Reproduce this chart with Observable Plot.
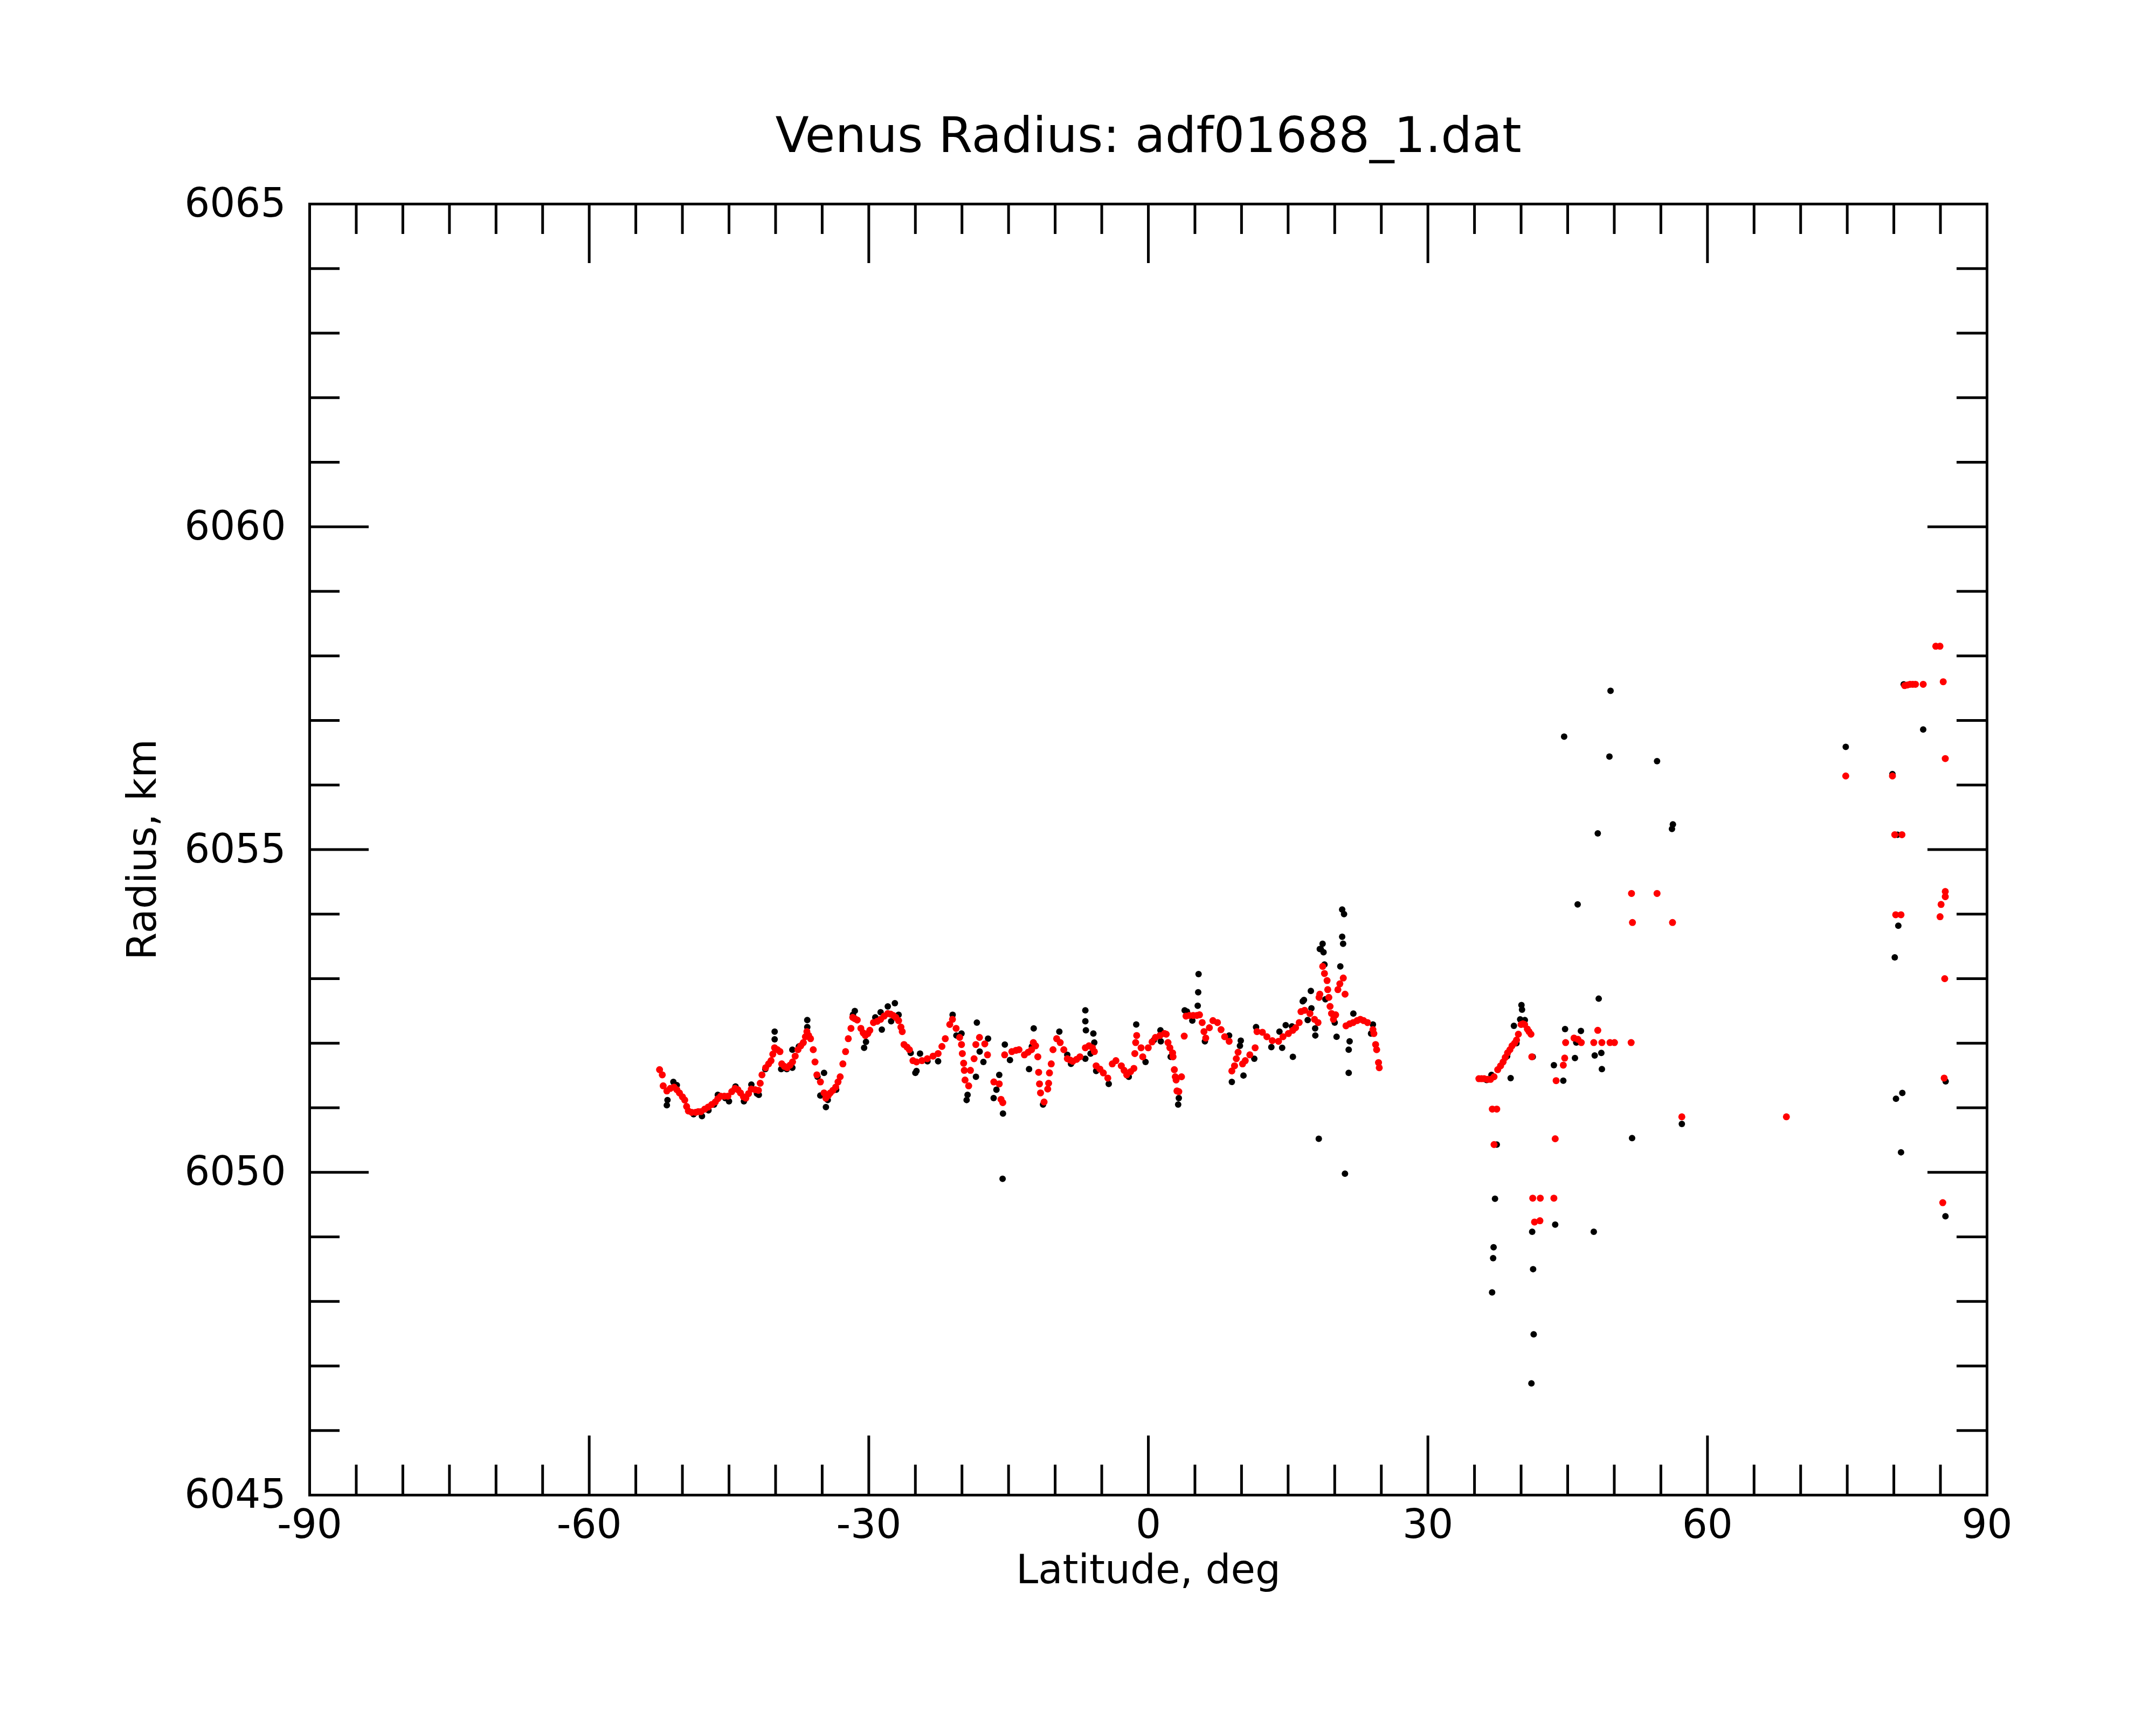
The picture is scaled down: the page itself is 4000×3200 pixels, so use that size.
<!DOCTYPE html>
<html>
<head>
<meta charset="utf-8">
<script src="https://cdn.jsdelivr.net/npm/d3@7"></script>
<script src="https://cdn.jsdelivr.net/npm/@observablehq/plot@0.6"></script>
<style>
html, body { margin: 0; padding: 0; background: #ffffff; }
#chart svg { display: block; }
</style>
</head>
<body>
<div id="chart"></div>
<script>
// ---- Text ----
const title = "Venus Radius: adf01688_1.dat";
const xLabel = "Latitude, deg";
const yLabel = "Radius, km";

// ---- Ticks ----
const xMajorTicks = [-90, -60, -30, 0, 30, 60, 90];
const xMinorTicks = [-85, -80, -75, -70, -65, -55, -50, -45, -40, -35, -25, -20, -15, -10, -5,
  5, 10, 15, 20, 25, 35, 40, 45, 50, 55, 65, 70, 75, 80, 85];
const yMajorTicks = [6045, 6050, 6055, 6060, 6065];
const yMinorTicks = [6046, 6047, 6048, 6049, 6051, 6052, 6053, 6054, 6056, 6057, 6058, 6059,
  6061, 6062, 6063, 6064];

// ---- Data: [latitude (deg), radius (km)] ----
const blackPoints = [
  [-51.67,6051.04],[-51.6,6051.12],[-50.97,6051.40],[-50.6,6051.35],[-48.8,6050.90],[-47.9,6050.87],
  [-47.2,6050.96],[-46.6,6051.05],[-46.2,6051.20],[-45.4,6051.15],[-45.0,6051.10],[-44.3,6051.33],
  [-43.4,6051.10],[-42.6,6051.36],[-42.0,6051.22],[-41.8,6051.20],[-41.1,6051.60],[-40.1,6052.18],
  [-40.1,6052.06],[-39.4,6051.60],[-38.8,6051.60],[-38.2,6051.62],[-38.2,6051.90],[-37.5,6051.95],
  [-36.6,6052.36],[-36.6,6052.25],[-35.5,6051.48],[-35.2,6051.19],[-34.8,6051.54],[-34.6,6051.01],
  [-34.4,6051.12],[-33.5,6051.28],[-31.7,6052.44],[-31.5,6052.50],[-30.5,6051.93],[-30.3,6052.02],
  [-29.3,6052.40],[-28.73,6052.48],[-28.6,6052.21],[-27.96,6052.57],[-27.6,6052.34],[-27.2,6052.62],
  [-26.8,6052.44],[-25.5,6051.85],[-25.0,6051.54],
  [-24.88,6051.57],[-24.5,6051.84],[-23.7,6051.72],[-22.56,6051.72],[-21.0,6052.44],[-20.6,6052.12],
  [-20.05,6052.15],[-19.5,6051.12],[-19.4,6051.20],[-18.5,6051.48],[-18.4,6052.32],[-18.1,6051.87],
  [-17.7,6051.71],[-17.2,6052.07],[-16.6,6051.15],[-16.3,6051.28],[-16.0,6051.51],[-15.64,6049.90],
  [-15.6,6050.91],[-15.4,6051.98],[-14.85,6051.74],[-12.8,6051.60],[-12.5,6051.95],[-12.3,6052.23],
  [-11.3,6051.05],[-9.55,6052.18],[-8.7,6051.82],[-8.3,6051.68],[-6.76,6052.51],[-6.76,6052.34],
  [-6.76,6051.76],[-6.7,6052.20],[-6.2,6051.84],[-5.9,6052.15],[-5.8,6052.01],[-5.6,6051.57],
  [-4.25,6051.37],[-2.1,6051.48],[-1.3,6052.29],[-0.3,6051.71],[0.6,6052.05],[1.3,6052.20],
  [1.34,6052.03],[2.4,6051.79],[3.2,6051.05],[3.27,6051.15],[3.9,6052.51],
  [4.14,6052.49],[4.72,6052.35],[5.3,6052.58],[5.35,6052.79],[5.39,6053.07],[6.07,6052.03],
  [8.67,6052.12],[8.96,6051.40],[9.83,6051.96],[9.92,6052.04],[10.21,6051.50],[11.37,6051.76],
  [11.56,6052.25],[13.2,6051.94],[14.07,6052.18],[14.36,6051.93],[14.74,6052.28],[15.41,6052.26],
  [15.51,6051.79],[16.57,6052.65],[16.7,6052.67],[17.1,6052.36],[17.44,6052.81],[17.5,6052.54],
  [17.9,6052.23],[17.92,6052.12],[18.29,6050.52],[18.4,6053.46],[18.5,6053.46],[18.7,6053.54],
  [18.8,6053.41],[18.9,6053.22],[19.0,6052.68],[20.0,6052.32],[20.2,6052.10],[20.6,6053.19],
  [20.8,6054.07],[20.8,6053.65],[20.9,6053.54],[21.0,6054.00],[21.1,6049.98],[21.5,6051.54],
  [21.5,6051.90],[21.6,6052.03],[22.0,6052.46],[23.9,6052.15],[24.1,6052.29],
  [36.3,6051.43],[36.82,6051.51],[36.89,6048.14],[37.0,6048.67],[37.05,6048.84],[37.2,6049.59],
  [37.39,6050.43],[38.5,6051.80],[38.88,6051.46],[39.23,6052.27],[39.5,6052.00],[39.9,6052.37],
  [40.04,6052.59],[40.1,6052.52],[40.4,6052.36],[41.11,6046.73],[41.19,6049.08],[41.25,6051.79],
  [41.29,6048.50],[41.35,6047.49],[43.52,6051.66],[43.66,6049.19],[44.53,6051.42],[44.62,6056.75],
  [44.72,6052.22],[45.78,6051.77],[45.92,6052.01],[46.07,6054.15],[46.42,6052.19],[47.8,6049.08],
  [47.9,6051.81],[48.23,6055.25],[48.33,6052.69],[48.61,6051.85],[48.67,6051.60],[49.48,6056.44],
  [49.60,6057.46],[51.91,6050.53],[54.59,6056.37],[56.19,6055.32],[56.29,6055.39],[57.25,6050.75],
  [74.84,6056.59],[79.85,6056.17],[80.1,6053.33],[80.23,6051.14],[80.39,6055.23],[80.48,6053.82],
  [80.77,6050.31],[80.91,6051.23],[81.06,6057.56],[83.15,6056.86],[85.54,6049.32],[85.56,6051.41]
];

const redPoints = [
  [-52.45,6051.59],[-52.16,6051.51],[-52.06,6051.34],[-51.67,6051.26],[-51.3,6051.30],[-50.90,6051.32],
  [-50.6,6051.28],[-50.32,6051.23],[-50.0,6051.17],[-49.75,6051.12],[-49.55,6051.02],[-49.36,6050.95],
  [-49.0,6050.93],[-48.59,6050.93],[-48.3,6050.94],[-48.01,6050.94],[-47.6,6050.98],[-47.24,6051.01],
  [-46.85,6051.05],[-46.47,6051.09],[-46.2,6051.14],[-45.89,6051.18],[-45.5,6051.18],[-45.12,6051.18],
  [-44.7,6051.25],[-44.35,6051.30],[-44.05,6051.28],[-43.77,6051.23],[-43.45,6051.17],[-43.19,6051.15],
  [-42.9,6051.22],[-42.61,6051.29],[-42.2,6051.28],[-41.84,6051.27],[-41.65,6051.38],[-41.46,6051.51],
  [-41.07,6051.62],[-40.75,6051.68],[-40.49,6051.73],[-40.3,6051.83],[-40.11,6051.93],[-39.8,6051.90],
  [-39.53,6051.87],[-39.34,6051.68],[-39.05,6051.64],[-38.76,6051.62],[-38.45,6051.66],[-38.18,6051.71],
  [-37.9,6051.80],[-37.60,6051.90],[-37.3,6051.96],[-37.02,6052.01],[-36.8,6052.10],[-36.64,6052.18],
  [-36.45,6052.12],[-36.25,6052.07],[-35.96,6051.90],[-35.77,6051.71],[-35.57,6051.51],[-35.19,6051.40],
  [-34.80,6051.23],[-34.61,6051.15],[-34.35,6051.19],[-34.13,6051.23],[-33.85,6051.27],[-33.55,6051.32],
  [-33.3,6051.40],[-33.07,6051.48],[-32.78,6051.68],[-32.49,6051.87],[-32.20,6052.07],[-31.91,6052.23],
  [-31.72,6052.40],[-31.5,6052.38],[-31.24,6052.36],[-30.85,6052.23],[-30.6,6052.16],[-30.37,6052.12],
  [-30.1,6052.15],[-29.89,6052.20],[-29.50,6052.32],[-29.1,6052.34],[-28.73,6052.37],[-28.35,6052.42],
  [-27.96,6052.46],[-27.65,6052.45],[-27.38,6052.43],[-27.1,6052.40],[-26.80,6052.35],[-26.55,6052.25],
  [-26.41,6052.18],[-26.22,6051.98],[-25.9,6051.94],[-25.64,6051.90],[-25.26,6051.73],
  [-24.88,6051.71],[-24.3,6051.73],[-23.72,6051.76],[-23.1,6051.80],[-22.56,6051.84],[-22.15,6051.95],
  [-21.79,6052.07],[-21.31,6052.29],[-21.02,6052.37],[-20.63,6052.23],[-20.25,6052.09],[-20.05,6051.98],
  [-19.96,6051.84],[-19.82,6051.69],[-19.75,6051.58],[-19.67,6051.43],[-19.28,6051.34],[-19.09,6051.58],
  [-18.7,6051.76],[-18.51,6051.98],[-18.12,6052.09],[-17.55,6051.99],[-17.26,6051.82],[-16.58,6051.40],
  [-16.0,6051.37],[-15.81,6051.13],[-15.62,6051.08],[-15.42,6051.82],[-14.65,6051.87],[-14.2,6051.89],
  [-13.88,6051.90],[-13.30,6051.82],[-12.9,6051.86],[-12.53,6051.90],[-12.34,6052.01],[-12.1,6051.96],
  [-11.86,6051.79],[-11.77,6051.55],[-11.68,6051.37],[-11.57,6051.23],[-11.19,6051.09],[-10.8,6051.29],
  [-10.7,6051.38],[-10.61,6051.54],[-10.42,6051.68],[-10.23,6051.90],[-9.84,6052.07],[-9.46,6052.01],
  [-9.07,6051.90],[-8.69,6051.76],[-8.4,6051.74],[-8.11,6051.72],[-7.7,6051.75],[-7.34,6051.79],
  [-6.76,6051.93],[-6.37,6051.96],[-6.0,6051.93],[-5.79,6051.87],[-5.6,6051.65],[-5.2,6051.60],
  [-4.83,6051.54],[-4.35,6051.46],[-3.87,6051.68],[-3.48,6051.73],[-2.90,6051.65],[-2.6,6051.58],
  [-2.32,6051.51],[-1.9,6051.56],[-1.55,6051.61],[-1.45,6051.84],[-1.36,6052.01],[-1.25,6052.12],
  [-0.78,6051.93],[-0.6,6051.79],[-0.01,6051.93],[0.4,6052.02],[0.76,6052.09],[1.25,6052.12],
  [1.73,6052.15],[1.92,6052.14],[2.11,6052.01],[2.31,6051.93],[2.6,6051.85],[2.65,6051.79],
  [2.79,6051.59],[2.89,6051.48],[2.98,6051.43],[3.07,6051.26],[3.27,6051.25],[3.56,6051.48],
  [3.85,6052.11],[4.04,6052.42],[4.4,6052.43],[4.81,6052.43],[5.2,6052.43],[5.49,6052.44],
  [5.78,6052.32],[5.97,6052.18],[6.16,6052.08],[6.55,6052.24],[6.93,6052.35],[7.42,6052.32],
  [7.8,6052.21],[8.19,6052.10],[8.67,6052.03],[8.96,6051.57],[9.25,6051.65],[9.44,6051.76],
  [9.63,6051.86],[10.11,6051.68],[10.4,6051.73],[10.89,6051.82],[11.46,6051.93],[11.66,6052.18],
  [12.24,6052.17],[12.72,6052.10],[13.3,6052.04],[13.97,6052.03],[14.45,6052.10],[15.03,6052.15],
  [15.5,6052.20],[15.8,6052.24],[16.19,6052.32],[16.38,6052.49],[16.77,6052.51],[17.34,6052.46],
  [17.83,6052.37],[18.21,6052.32],[18.32,6052.71],[18.4,6052.76],[18.71,6053.19],[18.9,6053.08],
  [19.18,6052.97],[19.25,6052.83],[19.37,6052.71],[19.5,6052.57],[19.66,6052.46],[19.86,6052.37],
  [20.1,6052.44],[20.34,6052.83],[20.55,6052.92],[20.92,6053.01],[21.11,6052.76],[21.21,6052.27],
  [21.6,6052.30],[21.98,6052.32],[22.4,6052.35],[22.75,6052.37],[23.1,6052.35],[23.52,6052.32],
  [24.10,6052.21],[24.2,6052.15],[24.39,6051.98],[24.5,6051.90],[24.7,6051.70],[24.78,6051.62],
  [35.47,6051.45],[35.75,6051.45],[36.04,6051.45],[36.4,6051.44],[36.72,6051.44],[37.1,6051.48],
  [37.49,6051.59],[37.8,6051.65],[38.07,6051.71],[38.3,6051.78],[38.55,6051.85],[38.8,6051.90],
  [39.03,6051.96],[39.3,6052.00],[39.51,6052.05],[39.71,6052.14],[40.0,6052.29],[40.2,6052.30],
  [40.38,6052.29],[40.67,6052.22],[40.85,6052.18],[41.06,6052.14],[41.15,6051.79],
  [36.91,6050.98],[37.39,6050.98],[37.1,6050.43],[41.25,6049.60],[42.06,6049.60],[43.52,6049.60],
  [41.44,6049.23],[42.02,6049.25],[43.66,6050.52],[43.76,6051.42],[44.53,6051.66],[44.68,6051.77],
  [44.78,6052.01],[45.68,6052.08],[46.1,6052.06],[46.46,6052.01],[47.80,6052.01],[48.23,6052.20],
  [48.67,6052.01],[49.54,6052.01],[50.02,6052.01],[51.81,6052.01],[51.85,6054.32],[54.59,6054.32],
  [51.95,6053.87],[56.25,6053.87],[57.25,6050.86],[68.47,6050.86],[74.84,6056.14],[79.85,6056.14],
  [80.1,6055.23],[80.87,6055.23],[80.2,6053.99],[80.77,6053.99],[81.16,6057.54],[81.45,6057.55],
  [81.74,6057.56],[82.03,6057.56],[82.32,6057.56],[83.15,6057.56],[84.5,6058.15],[84.95,6058.15],
  [85.3,6057.60],[85.52,6056.41],[85.52,6054.35],[85.52,6054.27],[85.07,6054.15],[84.96,6053.96],
  [85.46,6053.00],[85.4,6051.46],[85.25,6049.53]
];

// ---- Layout ----
const W = 4000, H = 3200;
const mLeft = 574, mRight = 314, mTop = 378, mBottom = 427;
const FW = W - mLeft - mRight;   // frame width
const FH = H - mTop - mBottom;   // frame height
const minorLen = 56, majorLen = 110;
const tickW = 5;

const chart = Plot.plot({
  width: W,
  height: H,
  marginLeft: mLeft,
  marginRight: mRight,
  marginTop: mTop,
  marginBottom: mBottom,
  style: { fontFamily: "DejaVu Sans", background: "#ffffff", color: "#000000" },
  x: { domain: [-90, 90], axis: null },
  y: { domain: [6045, 6065], axis: null },
  marks: [
    // data
    Plot.dot(blackPoints, { x: d => d[0], y: d => d[1], r: 6, fill: "#000000", stroke: "none" }),
    Plot.dot(redPoints, { x: d => d[0], y: d => d[1], r: 6.5, fill: "#ff0000", stroke: "none" }),
    // inward ticks: x top/bottom
    Plot.tickX(xMinorTicks, { x: d => d, insetBottom: FH - minorLen, strokeWidth: tickW, stroke: "#000" }),
    Plot.tickX(xMinorTicks, { x: d => d, insetTop: FH - minorLen, strokeWidth: tickW, stroke: "#000" }),
    Plot.tickX(xMajorTicks, { x: d => d, insetBottom: FH - majorLen, strokeWidth: tickW, stroke: "#000" }),
    Plot.tickX(xMajorTicks, { x: d => d, insetTop: FH - majorLen, strokeWidth: tickW, stroke: "#000" }),
    // inward ticks: y left/right
    Plot.tickY(yMinorTicks, { y: d => d, insetRight: FW - minorLen, strokeWidth: tickW, stroke: "#000" }),
    Plot.tickY(yMinorTicks, { y: d => d, insetLeft: FW - minorLen, strokeWidth: tickW, stroke: "#000" }),
    Plot.tickY(yMajorTicks, { y: d => d, insetRight: FW - majorLen, strokeWidth: tickW, stroke: "#000" }),
    Plot.tickY(yMajorTicks, { y: d => d, insetLeft: FW - majorLen, strokeWidth: tickW, stroke: "#000" }),
    Plot.frame({ stroke: "#000", strokeWidth: 5 }),
    // tick labels
    Plot.text(xMajorTicks, { x: d => d, frameAnchor: "bottom", lineAnchor: "top", dy: 27,
      text: d => String(d), fontSize: 74, fill: "#000" }),
    Plot.text(yMajorTicks, { y: d => d, frameAnchor: "left", textAnchor: "end", dx: -44,
      text: d => String(d), fontSize: 74, fill: "#000" }),
    // axis labels & title
    Plot.text([xLabel], { frameAnchor: "bottom", lineAnchor: "bottom", textAnchor: "middle", dy: 163,
      text: d => d, fontSize: 74, fill: "#000" }),
    Plot.text([yLabel], { frameAnchor: "left", rotate: -90, textAnchor: "middle", lineAnchor: "middle", dx: -309,
      text: d => d, fontSize: 74, fill: "#000" }),
    Plot.text([title], { frameAnchor: "top", lineAnchor: "bottom", textAnchor: "middle", dy: -97,
      text: d => d, fontSize: 91, fill: "#000" })
  ]
});

document.getElementById("chart").appendChild(chart);
</script>
</body>
</html>
